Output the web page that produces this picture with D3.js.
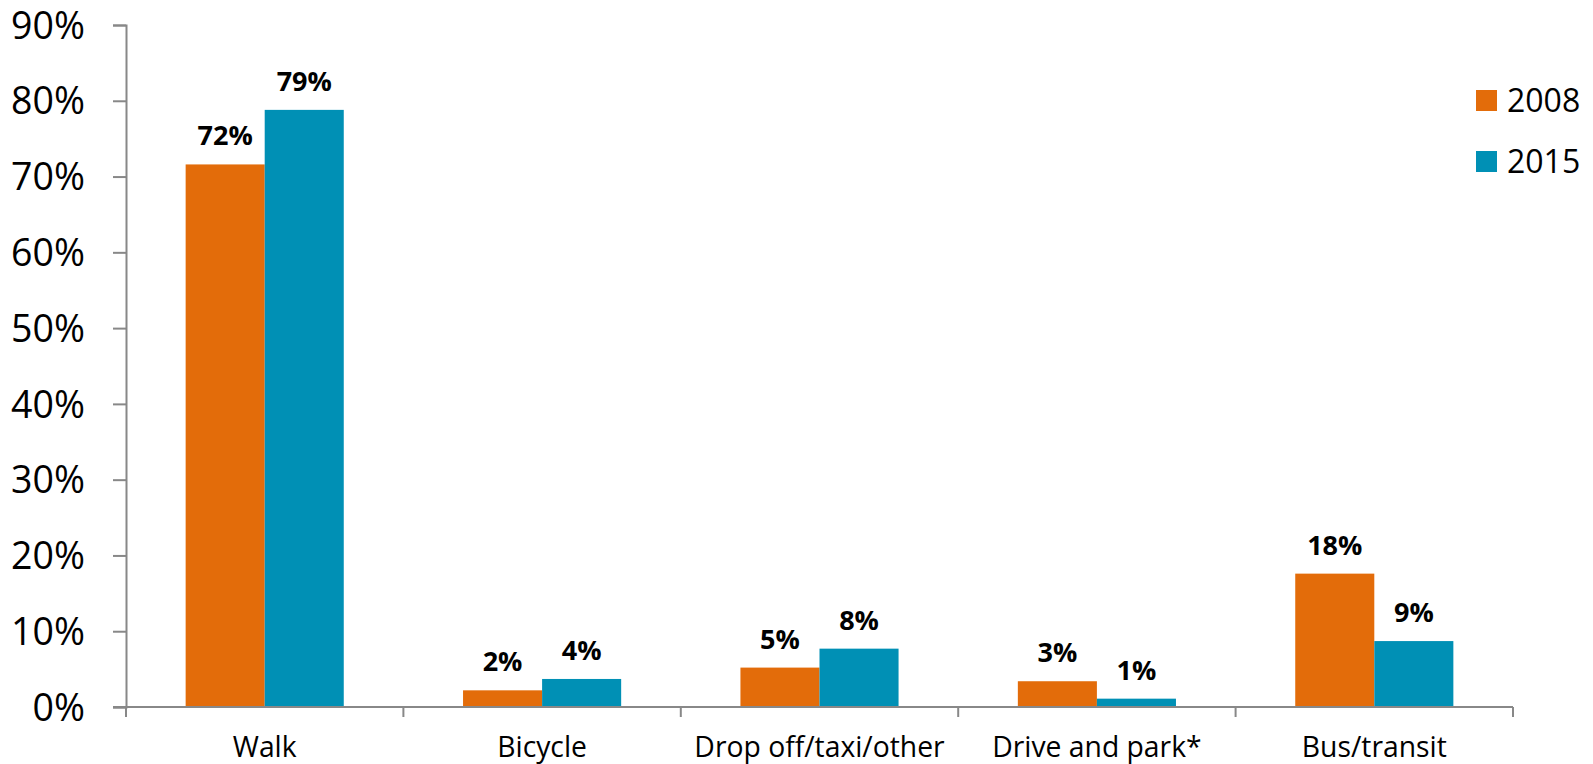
<!DOCTYPE html>
<meta charset="utf-8">
<head>
    <script src="https://d3js.org/d3.v7.min.js"></script>
    <style>
        body { margin: 0; background: #fff; }
        text { font-family: "Open Sans", sans-serif; fill: #000; }
    </style>
</head>
<body>
<div id="chart"></div>
<script>
    // data
    var categories = ["Walk", "Bicycle", "Drop off/taxi/other", "Drive and park*", "Bus/transit"];
    var series = ["2008", "2015"];
    var values2008 = [71.6, 2.2, 5.2, 3.4, 17.6];
    var values2015 = [78.8, 3.7, 7.7, 1.1, 8.7];
    var yTicks = [0, 10, 20, 30, 40, 50, 60, 70, 80, 90];
    var colors = ["#E36C0A", "#0090B5"];

    var width = 1593, height = 764;
    var margin = {top: 25, right: 80, bottom: 57, left: 126};

    var svg = d3.select("#chart").append("svg")
        .attr("width", width)
        .attr("height", height);

    var x0 = d3.scaleBand()
        .domain(categories)
        .range([margin.left, 1513])
        .padding(0);

    var x1 = d3.scaleBand()
        .domain(series)
        .range([x0.bandwidth() * 0.215, x0.bandwidth() * 0.785]);

    var y = d3.scaleLinear()
        .domain([0, 90])
        .range([height - margin.bottom, margin.top]);

    var axisColor = "#888";

    // y axis
    var yAxis = svg.append("g")
        .attr("transform", "translate(" + margin.left + ",0)")
        .call(d3.axisLeft(y).tickValues(yTicks).tickSize(13).tickPadding(28)
            .tickFormat(function(d) { return d + "%"; }));
    yAxis.select(".domain").attr("stroke", axisColor).attr("stroke-width", 2);
    yAxis.selectAll(".tick line").attr("stroke", axisColor).attr("stroke-width", 2);
    yAxis.selectAll(".tick text").style("font-size", "37.5px").attr("dy", "0.35em");

    // bars
    var rows = categories.map(function(c, i) {
        return {cat: c, vals: [values2008[i], values2015[i]]};
    });

    var groups = svg.append("g").selectAll("g")
        .data(rows)
        .join("g")
        .attr("transform", function(d) { return "translate(" + x0(d.cat) + ",0)"; });

    groups.selectAll("rect")
        .data(function(d) { return d.vals.map(function(v, j) { return {s: series[j], v: v, j: j}; }); })
        .join("rect")
        .attr("x", function(d) { return x1(d.s); })
        .attr("width", x1.bandwidth())
        .attr("y", function(d) { return y(d.v); })
        .attr("height", function(d) { return y(0) - y(d.v); })
        .attr("fill", function(d) { return colors[d.j]; });

    groups.selectAll("text")
        .data(function(d) { return d.vals.map(function(v, j) { return {s: series[j], v: v}; }); })
        .join("text")
        .attr("x", function(d) { return x1(d.s) + x1.bandwidth() / 2; })
        .attr("y", function(d) { return y(d.v) - 19; })
        .attr("text-anchor", "middle")
        .style("font-size", "27px")
        .style("font-weight", "bold")
        .text(function(d) { return Math.round(d.v) + "%"; });

    // x axis
    var xAxis = svg.append("g")
        .attr("transform", "translate(0," + y(0) + ")");
    xAxis.append("line")
        .attr("x1", margin.left - 13).attr("x2", x0.range()[1])
        .attr("stroke", axisColor).attr("stroke-width", 2);
    var bounds = categories.map(function(c) { return x0(c); }).concat([x0.range()[1]]);
    xAxis.selectAll(".bound")
        .data(bounds)
        .join("line")
        .attr("class", "bound")
        .attr("x1", function(d) { return d; }).attr("x2", function(d) { return d; })
        .attr("y1", 0).attr("y2", 10)
        .attr("stroke", axisColor).attr("stroke-width", 2);
    xAxis.selectAll(".xlabel")
        .data(categories)
        .join("text")
        .attr("class", "xlabel")
        .attr("x", function(d) { return x0(d) + x0.bandwidth() / 2; })
        .attr("y", 50)
        .attr("text-anchor", "middle")
        .style("font-size", "28.3px")
        .text(function(d) { return d; });

    // legend
    var legend = svg.append("g").selectAll("g")
        .data(series)
        .join("g")
        .attr("transform", function(d, i) { return "translate(1476," + (90 + i * 61) + ")"; });
    legend.append("rect")
        .attr("width", 21).attr("height", 21)
        .attr("fill", function(d, i) { return colors[i]; });
    legend.append("text")
        .attr("x", 31).attr("y", 10.5).attr("dy", "0.36em")
        .style("font-size", "32px")
        .text(function(d) { return d; });
</script>
</body>
